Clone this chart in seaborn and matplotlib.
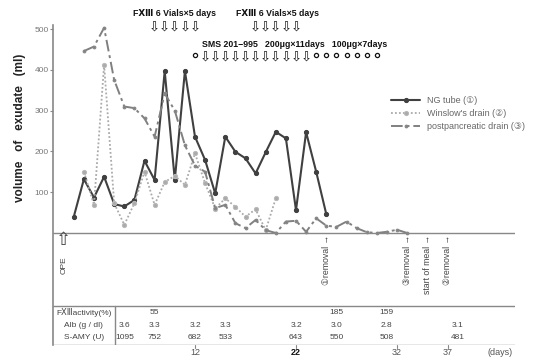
import matplotlib
matplotlib.use("Agg")
import matplotlib.pyplot as plt
import pandas as pd
import seaborn as sns

# exudate volumes (ml) per post-operative day
ng_days = list(range(0, 26))
ng_tube = [40, 132, 87, 138, 71, 65, 81, 177, 130, 397, 130, 397, 236, 179, 97,
           236, 199, 183, 146, 198, 248, 232, 56, 247, 150, 46]
winslow_days = list(range(1, 21))
winslow = [150, 69, 412, 73, 20, 73, 150, 69, 125, 140, 118, 195, 122, 60, 85,
           64, 40, 58, 7, 85]
pp_days = list(range(1, 34))
postpanc = [446, 457, 503, 375, 310, 306, 281, 236, 342, 300, 215, 165, 150, 61,
            69, 24, 12, 32, 7, 0, 28, 30, 3, 36, 18, 15, 28, 12, 2, 0, 3, 8, 0]

series_labels = ["NG tube (①)", "Winslow's drain (②)", "postpancreatic drain (③)"]

# treatment days
fxiii_days_1 = [8, 9, 10, 11, 12]
fxiii_days_2 = [18, 19, 20, 21, 22]
sms_start_day = [12]
sms200_days = list(range(13, 24))
sms100_days = list(range(24, 31))

# events
event_days = [25, 33, 35, 37]
event_labels = ["①removal", "③removal", "start of meal", "②removal"]

# lab table
fxiii_act_days = [8, 26, 31]
fxiii_act = ["55", "185", "159"]
lab_days = [5, 8, 12, 15, 22, 26, 31, 38]
alb = ["3.6", "3.3", "3.2", "3.3", "3.2", "3.0", "2.8", "3.1"]
s_amy = ["1095", "752", "682", "533", "643", "550", "508", "481"]
day_ticks = [12, 22, 32, 37]

sns.set_theme(style="white")
plt.rcParams['font.family'] = ['Liberation Sans', 'DejaVu Sans', 'Noto Sans CJK JP']

fig = plt.figure(figsize=(5.5, 3.64), dpi=100)
W, H = 550, 364
# pixel -> data mapping: day = (px - 73.8)/10.1 ; ml = (233 - py)/0.408
x0, x1 = (53 - 73.8) / 10.1, (515 - 73.8) / 10.1
y0, y1 = -(345 - 233) / 0.408, (233 - 5) / 0.408
ax = fig.add_axes([53 / W, (H - 345) / H, (515 - 53) / W, (345 - 5) / H])
ax.set_xlim(x0, x1)
ax.set_ylim(y0, y1)
for s in ["top", "right", "bottom"]:
    ax.spines[s].set_visible(False)
ax.spines["left"].set_bounds(y0, 510)
ax.spines["left"].set_color("#888888")
ax.spines["left"].set_linewidth(1.2)
ax.set_xticks([])
ax.set_yticks([100, 200, 300, 400, 500])
ax.set_yticklabels(["100", "200", "300", "400", "500"])
ax.tick_params(axis="y", length=2, width=0.8, color="#888888", labelsize=6,
               labelcolor="#777777", pad=1, left=True)

sns.lineplot(x=ng_days, y=ng_tube, ax=ax, color="#404040", lw=1.5, marker="o",
             markersize=3, markeredgecolor="#404040", label=series_labels[0])
sns.lineplot(x=winslow_days, y=winslow, ax=ax, color="#aaaaaa", lw=1.3,
             linestyle=(0, (1, 1.2)), marker="o", markersize=3,
             markeredgecolor="#bbbbbb", label=series_labels[1])
sns.lineplot(x=pp_days, y=postpanc, ax=ax, color="#808080", lw=1.4,
             linestyle=(0, (6, 2, 1.5, 2)), marker="o", markersize=2,
             markeredgecolor="#888888", label=series_labels[2])

ax.legend(loc="upper left", bbox_to_anchor=(383 / W, 1 - 88 / H),
          bbox_transform=fig.transFigure, frameon=False, fontsize=6.5,
          handlelength=3.2, labelcolor="#666666", labelspacing=0.45)

# baseline and table lines
ax.axhline(0, color="#888888", lw=1.0)
tab_top = -(306 - 233) / 0.408
ax.axhline(tab_top, color="#888888", lw=1.0)
ax.axhline(y0 + 1, color="#888888", lw=1.0)
ax.plot([(115 - 73.8) / 10.1] * 2, [tab_top, y0], color="#888888", lw=1.0)
for d in day_ticks:
    ax.plot([d, d], [y0, y0 - 8], color="#888888", lw=0.8, clip_on=False)

# top treatment annotations
bold = dict(fontsize=6.3, fontweight="bold", color="#111111", clip_on=False)
ax.text(10, 537, "FⅩⅢ 6 Vials×5 days", ha="center", va="center", **bold)
ax.text(20.2, 537, "FⅩⅢ 6 Vials×5 days", ha="center", va="center", **bold)
ax.text(21.9, 462, "SMS 201−995   200μg×11days   100μg×7days", ha="center",
        va="center", **bold)
for d in fxiii_days_1 + fxiii_days_2:
    ax.text(d, 502, "⇩", ha="center", va="center", fontsize=9.5, color="#111111")
for d in sms200_days:
    ax.text(d, 428, "⇩", ha="center", va="center", fontsize=9.5, color="#111111")
ax.plot(sms_start_day + sms100_days, [436] * (1 + len(sms100_days)), "o",
        mfc="white", mec="#111111", ms=3.0, mew=0.9)

# OPE and events
ax.text(-1.0, -18, "⇧", ha="center", va="center", fontsize=13, color="#444444")
ax.text(-1.0, -80, "OPE", ha="center", va="center", rotation=90, fontsize=6,
        color="#444444")
for d, lab in zip(event_days, event_labels):
    ax.text(d, -4, lab + " →", ha="center", va="top", rotation=90, fontsize=6.3,
            color="#444444")

# lab table
ax.text(1.0, -194, "FⅩⅢactivity(%)", ha="center", va="center", fontsize=6,
        color="#444444")
ax.text(1.0, -226, "Alb (g / dl)", ha="center", va="center", fontsize=6,
        color="#444444")
ax.text(1.0, -255, "S-AMY (U)", ha="center", va="center", fontsize=6,
        color="#444444")
for d, v in zip(fxiii_act_days, fxiii_act):
    ax.text(d, -194, v, ha="center", va="center", fontsize=6, color="#444444")
for d, a, s in zip(lab_days, alb, s_amy):
    ax.text(d, -226, a, ha="center", va="center", fontsize=6, color="#444444")
    ax.text(d, -255, s, ha="center", va="center", fontsize=6, color="#444444")
for d in day_ticks:
    ax.text(d, -292, str(d), ha="center", va="center", fontsize=6.5,
            color="#111111" if d == 22 else "#555555",
            fontweight="bold" if d == 22 else "normal", clip_on=False)
ax.text(42.2, -292, "(days)", ha="center", va="center", fontsize=6.5,
        color="#555555", clip_on=False)

fig.text(20 / W, 1 - 128 / H, "volume   of   exudate   (ml)", rotation=90,
         ha="center", va="center", fontsize=8.5, fontweight="bold", color="#222222")

fig.savefig("out.png", dpi=100)
